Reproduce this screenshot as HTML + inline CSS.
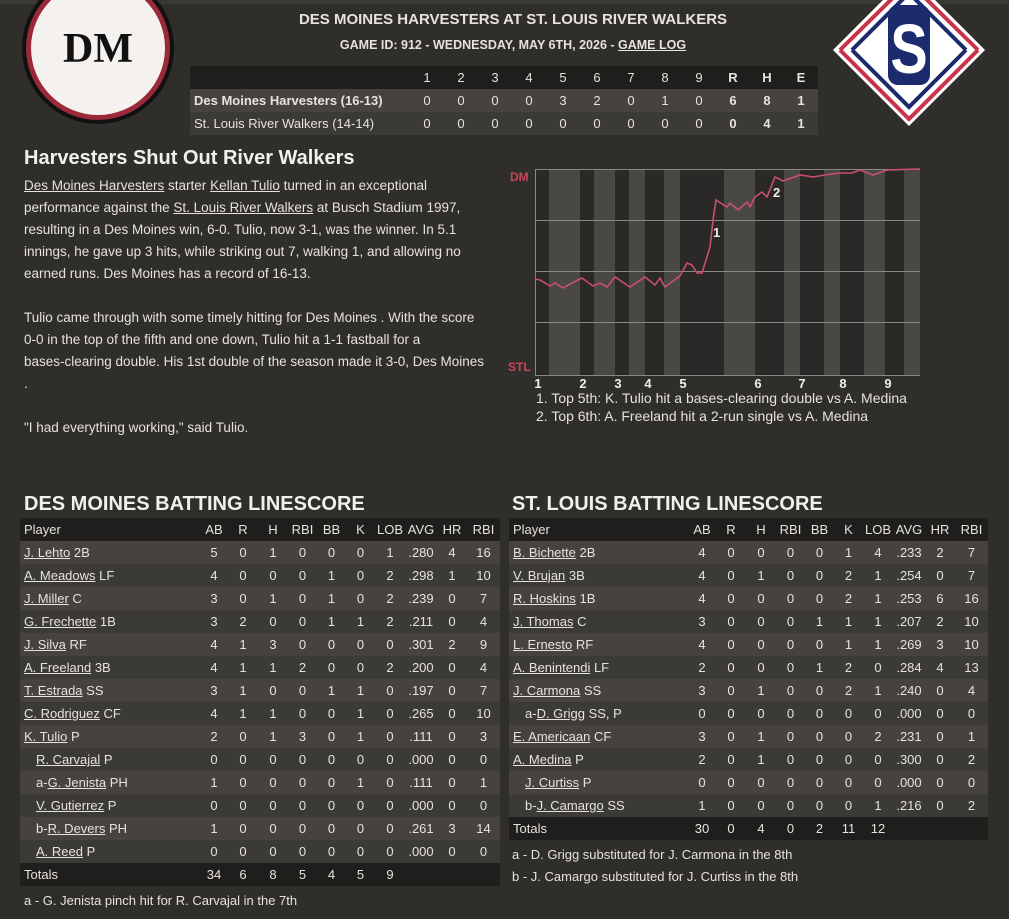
<!DOCTYPE html>
<html><head><meta charset="utf-8">
<style>
body{margin:0;width:1009px;height:919px;background:#302e2b;color:#e6e2dc;font-family:"Liberation Sans",sans-serif;position:relative;overflow:hidden}
.a{position:absolute}
u{text-decoration:underline}
table{border-collapse:collapse;table-layout:fixed;position:absolute;font-size:13px}
td{height:23px;padding:0;text-align:center;white-space:nowrap;overflow:hidden}
td.p{text-align:left;padding-left:4px}
tr.h td{background:#1f1e1d}
tr.o td{background:#46433f}
tr.e td{background:#3c3a37}
tr.t td{background:#1f1e1d}
.i{padding-left:16px!important}
.txt{font-size:13.5px;line-height:22px;white-space:nowrap}
h2{margin:0;font-size:20px;font-weight:bold;color:#f2f0ec}
</style></head><body>
<div class="a" style="left:0;top:0;width:1009px;height:4px;background:#3a3835"></div>
<svg class="a" style="left:0;top:0" width="200" height="140">
<circle cx="98" cy="48" r="76" fill="#111"/>
<circle cx="98" cy="48" r="72" fill="#9a2a3a"/>
<circle cx="98" cy="48" r="67" fill="#f4f1ee"/>
<text x="98" y="62" text-anchor="middle" font-family="Liberation Serif,serif" font-weight="bold" font-size="42" fill="#111">DM</text>
</svg>
<svg class="a" style="left:830;top:0" width="160" height="130">
<polygon points="79,-26 155,50 79,126 3,50" fill="#fff"/>
<polyline points="10,50 79,-18 148,50" fill="none" stroke="#c8324a" stroke-width="4"/>
<polyline points="22,50 79,-7 136,50" fill="none" stroke="#1c2a6e" stroke-width="4"/>
<polyline points="10,50 79,119 148,50" fill="none" stroke="#c8324a" stroke-width="4"/>
<polyline points="22,50 79,107 136,50" fill="none" stroke="#1c2a6e" stroke-width="4"/>
<rect x="58" y="5" width="42" height="80" rx="10" fill="#1c2a6e"/>
<text x="79" y="73" text-anchor="middle" font-family="Liberation Sans Narrow,Liberation Sans,sans-serif" font-weight="bold" font-size="70" fill="#fff" transform="translate(79,0) scale(0.8,1) translate(-79,0)">S</text>
</svg>
<div class="a" style="left:250px;width:526px;top:11px;text-align:center;font-size:15px;font-weight:bold">DES MOINES HARVESTERS AT ST. LOUIS RIVER WALKERS</div>
<div class="a" style="left:250px;width:526px;top:38px;text-align:center;font-size:12.5px;font-weight:bold">GAME ID: 912 - WEDNESDAY, MAY 6TH, 2026 - <u>GAME LOG</u></div>
<table style="left:190px;top:66px;width:628px">
<col style="width:220px"><col span="12" style="width:34px">
<tr class="h"><td></td><td>1</td><td>2</td><td>3</td><td>4</td><td>5</td><td>6</td><td>7</td><td>8</td><td>9</td><td><b>R</b></td><td><b>H</b></td><td><b>E</b></td></tr>
<tr class="o"><td class="p"><b>Des Moines Harvesters (16-13)</b></td><td>0</td><td>0</td><td>0</td><td>0</td><td>3</td><td>2</td><td>0</td><td>1</td><td>0</td><td><b>6</b></td><td><b>8</b></td><td><b>1</b></td></tr>
<tr class="e"><td class="p">St. Louis River Walkers (14-14)</td><td>0</td><td>0</td><td>0</td><td>0</td><td>0</td><td>0</td><td>0</td><td>0</td><td>0</td><td><b>0</b></td><td><b>4</b></td><td><b>1</b></td></tr>
</table>
<h2 class="a" style="left:24px;top:147px">Harvesters Shut Out River Walkers</h2>
<div class="a txt" style="left:24px;top:175px;width:480px">
<u>Des Moines Harvesters</u> starter <u>Kellan Tulio</u> turned in an exceptional<br>performance against the <u>St. Louis River Walkers</u> at Busch Stadium 1997,<br>resulting in a Des Moines win, 6-0. Tulio, now 3-1, was the winner. In 5.1<br>innings, he gave up 3 hits, while striking out 7, walking 1, and allowing no<br>earned runs. Des Moines has a record of 16-13.<br><br>
Tulio came through with some timely hitting for Des Moines . With the score<br>0-0 in the top of the fifth and one down, Tulio hit a 1-1 fastball for a<br>bases-clearing double. His 1st double of the season made it 3-0, Des Moines<br>.<br><br>
"I had everything working," said Tulio.</div>
<svg class="a" style="left:0;top:0" width="1009" height="440">
<rect x="535" y="169" width="385" height="206" fill="#2a2927"/>
<g fill="#4a4845">
<rect x="549" y="169" width="31" height="206"/><rect x="594" y="169" width="21" height="206"/><rect x="629" y="169" width="16" height="206"/><rect x="664" y="169" width="16" height="206"/><rect x="724" y="169" width="31" height="206"/><rect x="784" y="169" width="16" height="206"/><rect x="824" y="169" width="16" height="206"/><rect x="864" y="169" width="21" height="206"/><rect x="904" y="169" width="16" height="206"/>
</g>
<g stroke="#8a8784" stroke-width="1">
<line x1="535" y1="169.5" x2="920" y2="169.5"/><line x1="535" y1="220.5" x2="920" y2="220.5"/><line x1="535" y1="271.5" x2="920" y2="271.5"/><line x1="535" y1="322.5" x2="920" y2="322.5"/><line x1="535" y1="375.5" x2="920" y2="375.5"/><line x1="535.5" y1="169" x2="535.5" y2="375"/>
</g>
<polyline fill="none" stroke="#c8506a" stroke-width="1.6" points="535,279 540,280 550,286 555,283 563,288 572,283 582,278 593,286 600,283 607,287 615,277 630,287 645,277 655,285 660,278 665,287 680,276 687,263 692,265 697,273 702,273 710,247 713,220 716,200 727,207 730,203 738,210 747,202 750,207 755,197 762,192 767,197 775,177 783,181 800,175 813,177 825,175 840,173 852,173 860,170 873,175 887,170 920,169"/>
<g font-weight="bold" font-size="13" fill="#f0eee9"><text x="713" y="237">1</text><text x="773" y="197">2</text></g>
<g font-weight="bold" font-size="12" fill="#c8475e"><text x="510" y="181">DM</text><text x="508" y="371">STL</text></g>
<g font-weight="bold" font-size="13" fill="#f0eee9" text-anchor="middle"><text x="538" y="388">1</text><text x="583" y="388">2</text><text x="618" y="388">3</text><text x="648" y="388">4</text><text x="683" y="388">5</text><text x="758" y="388">6</text><text x="802" y="388">7</text><text x="843" y="388">8</text><text x="888" y="388">9</text></g>
<g font-size="14" fill="#e6e2dc"><text x="536" y="403">1. Top 5th: K. Tulio hit a bases-clearing double vs A. Medina</text><text x="536" y="421">2. Top 6th: A. Freeland hit a 2-run single vs A. Medina</text></g>
</svg>
<h2 class="a" style="left:24px;top:493px">DES MOINES BATTING LINESCORE</h2>
<h2 class="a" style="left:512px;top:493px">ST. LOUIS BATTING LINESCORE</h2>
<table style="left:20px;top:518px;width:480px">
<col style="width:180px"><col style="width:28px"><col style="width:30px"><col style="width:30px"><col style="width:29px"><col style="width:29px"><col style="width:29px"><col style="width:30px"><col style="width:32px"><col style="width:30px"><col style="width:33px">
<tr class="h"><td class="p">Player</td><td>AB</td><td>R</td><td>H</td><td>RBI</td><td>BB</td><td>K</td><td>LOB</td><td>AVG</td><td>HR</td><td>RBI</td></tr>
<tr class="o"><td class="p"><u>J. Lehto</u> 2B</td><td>5</td><td>0</td><td>1</td><td>0</td><td>0</td><td>0</td><td>1</td><td>.280</td><td>4</td><td>16</td></tr>
<tr class="e"><td class="p"><u>A. Meadows</u> LF</td><td>4</td><td>0</td><td>0</td><td>0</td><td>1</td><td>0</td><td>2</td><td>.298</td><td>1</td><td>10</td></tr>
<tr class="o"><td class="p"><u>J. Miller</u> C</td><td>3</td><td>0</td><td>1</td><td>0</td><td>1</td><td>0</td><td>2</td><td>.239</td><td>0</td><td>7</td></tr>
<tr class="e"><td class="p"><u>G. Frechette</u> 1B</td><td>3</td><td>2</td><td>0</td><td>0</td><td>1</td><td>1</td><td>2</td><td>.211</td><td>0</td><td>4</td></tr>
<tr class="o"><td class="p"><u>J. Silva</u> RF</td><td>4</td><td>1</td><td>3</td><td>0</td><td>0</td><td>0</td><td>0</td><td>.301</td><td>2</td><td>9</td></tr>
<tr class="e"><td class="p"><u>A. Freeland</u> 3B</td><td>4</td><td>1</td><td>1</td><td>2</td><td>0</td><td>0</td><td>2</td><td>.200</td><td>0</td><td>4</td></tr>
<tr class="o"><td class="p"><u>T. Estrada</u> SS</td><td>3</td><td>1</td><td>0</td><td>0</td><td>1</td><td>1</td><td>0</td><td>.197</td><td>0</td><td>7</td></tr>
<tr class="e"><td class="p"><u>C. Rodriguez</u> CF</td><td>4</td><td>1</td><td>1</td><td>0</td><td>0</td><td>1</td><td>0</td><td>.265</td><td>0</td><td>10</td></tr>
<tr class="o"><td class="p"><u>K. Tulio</u> P</td><td>2</td><td>0</td><td>1</td><td>3</td><td>0</td><td>1</td><td>0</td><td>.111</td><td>0</td><td>3</td></tr>
<tr class="e"><td class="p i"><u>R. Carvajal</u> P</td><td>0</td><td>0</td><td>0</td><td>0</td><td>0</td><td>0</td><td>0</td><td>.000</td><td>0</td><td>0</td></tr>
<tr class="o"><td class="p i">a-<u>G. Jenista</u> PH</td><td>1</td><td>0</td><td>0</td><td>0</td><td>0</td><td>1</td><td>0</td><td>.111</td><td>0</td><td>1</td></tr>
<tr class="e"><td class="p i"><u>V. Gutierrez</u> P</td><td>0</td><td>0</td><td>0</td><td>0</td><td>0</td><td>0</td><td>0</td><td>.000</td><td>0</td><td>0</td></tr>
<tr class="o"><td class="p i">b-<u>R. Devers</u> PH</td><td>1</td><td>0</td><td>0</td><td>0</td><td>0</td><td>0</td><td>0</td><td>.261</td><td>3</td><td>14</td></tr>
<tr class="e"><td class="p i"><u>A. Reed</u> P</td><td>0</td><td>0</td><td>0</td><td>0</td><td>0</td><td>0</td><td>0</td><td>.000</td><td>0</td><td>0</td></tr>
<tr class="t"><td class="p">Totals</td><td>34</td><td>6</td><td>8</td><td>5</td><td>4</td><td>5</td><td>9</td><td></td><td></td><td></td></tr>
</table>
<table style="left:509px;top:518px;width:479px">
<col style="width:179px"><col style="width:28px"><col style="width:30px"><col style="width:30px"><col style="width:29px"><col style="width:29px"><col style="width:29px"><col style="width:30px"><col style="width:32px"><col style="width:30px"><col style="width:33px">
<tr class="h"><td class="p">Player</td><td>AB</td><td>R</td><td>H</td><td>RBI</td><td>BB</td><td>K</td><td>LOB</td><td>AVG</td><td>HR</td><td>RBI</td></tr>
<tr class="o"><td class="p"><u>B. Bichette</u> 2B</td><td>4</td><td>0</td><td>0</td><td>0</td><td>0</td><td>1</td><td>4</td><td>.233</td><td>2</td><td>7</td></tr>
<tr class="e"><td class="p"><u>V. Brujan</u> 3B</td><td>4</td><td>0</td><td>1</td><td>0</td><td>0</td><td>2</td><td>1</td><td>.254</td><td>0</td><td>7</td></tr>
<tr class="o"><td class="p"><u>R. Hoskins</u> 1B</td><td>4</td><td>0</td><td>0</td><td>0</td><td>0</td><td>2</td><td>1</td><td>.253</td><td>6</td><td>16</td></tr>
<tr class="e"><td class="p"><u>J. Thomas</u> C</td><td>3</td><td>0</td><td>0</td><td>0</td><td>1</td><td>1</td><td>1</td><td>.207</td><td>2</td><td>10</td></tr>
<tr class="o"><td class="p"><u>L. Ernesto</u> RF</td><td>4</td><td>0</td><td>0</td><td>0</td><td>0</td><td>1</td><td>1</td><td>.269</td><td>3</td><td>10</td></tr>
<tr class="e"><td class="p"><u>A. Benintendi</u> LF</td><td>2</td><td>0</td><td>0</td><td>0</td><td>1</td><td>2</td><td>0</td><td>.284</td><td>4</td><td>13</td></tr>
<tr class="o"><td class="p"><u>J. Carmona</u> SS</td><td>3</td><td>0</td><td>1</td><td>0</td><td>0</td><td>2</td><td>1</td><td>.240</td><td>0</td><td>4</td></tr>
<tr class="e"><td class="p i">a-<u>D. Grigg</u> SS, P</td><td>0</td><td>0</td><td>0</td><td>0</td><td>0</td><td>0</td><td>0</td><td>.000</td><td>0</td><td>0</td></tr>
<tr class="o"><td class="p"><u>E. Americaan</u> CF</td><td>3</td><td>0</td><td>1</td><td>0</td><td>0</td><td>0</td><td>2</td><td>.231</td><td>0</td><td>1</td></tr>
<tr class="e"><td class="p"><u>A. Medina</u> P</td><td>2</td><td>0</td><td>1</td><td>0</td><td>0</td><td>0</td><td>0</td><td>.300</td><td>0</td><td>2</td></tr>
<tr class="o"><td class="p i"><u>J. Curtiss</u> P</td><td>0</td><td>0</td><td>0</td><td>0</td><td>0</td><td>0</td><td>0</td><td>.000</td><td>0</td><td>0</td></tr>
<tr class="e"><td class="p i">b-<u>J. Camargo</u> SS</td><td>1</td><td>0</td><td>0</td><td>0</td><td>0</td><td>0</td><td>1</td><td>.216</td><td>0</td><td>2</td></tr>
<tr class="t"><td class="p">Totals</td><td>30</td><td>0</td><td>4</td><td>0</td><td>2</td><td>11</td><td>12</td><td></td><td></td><td></td></tr>
</table>
<div class="a" style="left:512px;top:847px;font-size:13px">a - D. Grigg substituted for J. Carmona in the 8th</div>
<div class="a" style="left:512px;top:869px;font-size:13px">b - J. Camargo substituted for J. Curtiss in the 8th</div>
<div class="a" style="left:24px;top:893px;font-size:13px">a - G. Jenista pinch hit for R. Carvajal in the 7th</div>
</body></html>
